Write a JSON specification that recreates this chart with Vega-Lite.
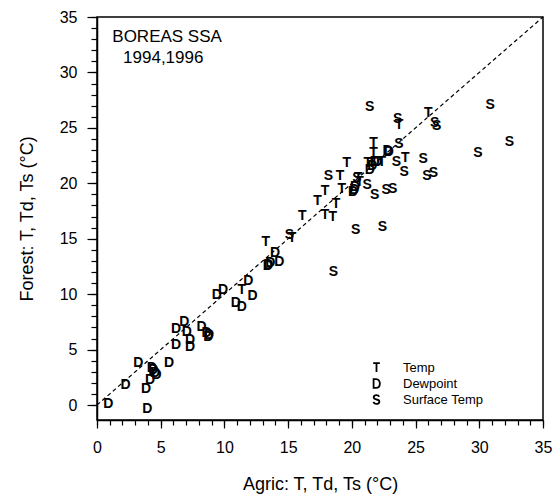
{
  "$schema": "https://vega.github.io/schema/vega-lite/v6.json",
  "width": 446,
  "height": 403,
  "autosize": {"type": "none"},
  "padding": {"left": 97, "top": 17, "right": 15, "bottom": 81},
  "background": "white",
  "config": {
    "view": {"stroke": "black", "strokeWidth": 1.5},
    "font": "Liberation Sans"
  },
  "resolve": {"axis": {"x": "independent", "y": "independent"}},
  "datasets": {
    "obs": [
      {"agric": 0.89, "forest": 0.09, "type": "D"},
      {"agric": 3.95, "forest": -0.39, "type": "D"},
      {"agric": 2.25, "forest": 1.8, "type": "D"},
      {"agric": 3.24, "forest": 3.76, "type": "D"},
      {"agric": 3.85, "forest": 1.41, "type": "D"},
      {"agric": 4.16, "forest": 2.25, "type": "D"},
      {"agric": 4.42, "forest": 3.16, "type": "D"},
      {"agric": 4.68, "forest": 2.7, "type": "D"},
      {"agric": 4.55, "forest": 2.9, "type": "D"},
      {"agric": 4.3, "forest": 3.3, "type": "D"},
      {"agric": 5.65, "forest": 3.82, "type": "D"},
      {"agric": 6.2, "forest": 5.4, "type": "D"},
      {"agric": 6.2, "forest": 6.9, "type": "D"},
      {"agric": 6.86, "forest": 7.5, "type": "D"},
      {"agric": 7.04, "forest": 6.6, "type": "D"},
      {"agric": 7.3, "forest": 5.86, "type": "D"},
      {"agric": 7.3, "forest": 5.2, "type": "D"},
      {"agric": 8.2, "forest": 7.06, "type": "D"},
      {"agric": 8.6, "forest": 6.47, "type": "D"},
      {"agric": 8.74, "forest": 6.16, "type": "D"},
      {"agric": 8.8, "forest": 6.3, "type": "D"},
      {"agric": 9.4, "forest": 9.9, "type": "D"},
      {"agric": 9.9, "forest": 10.4, "type": "D"},
      {"agric": 10.9, "forest": 9.17, "type": "D"},
      {"agric": 11.36, "forest": 8.8, "type": "D"},
      {"agric": 11.88, "forest": 11.2, "type": "D"},
      {"agric": 12.2, "forest": 9.83, "type": "D"},
      {"agric": 13.4, "forest": 12.5, "type": "D"},
      {"agric": 13.6, "forest": 12.8, "type": "D"},
      {"agric": 13.97, "forest": 13.7, "type": "D"},
      {"agric": 14.3, "forest": 12.9, "type": "D"},
      {"agric": 13.45, "forest": 12.6, "type": "D"},
      {"agric": 20.1, "forest": 19.2, "type": "D"},
      {"agric": 20.25, "forest": 19.7, "type": "D"},
      {"agric": 20.2, "forest": 19.4, "type": "D"},
      {"agric": 21.8, "forest": 21.95, "type": "D"},
      {"agric": 21.4, "forest": 21.2, "type": "D"},
      {"agric": 22.9, "forest": 22.85, "type": "D"},
      {"agric": 22.8, "forest": 22.9, "type": "D"},
      {"agric": 21.6, "forest": 21.6, "type": "D"},
      {"agric": 22.0, "forest": 21.9, "type": "D"},
      {"agric": 11.36, "forest": 10.4, "type": "T"},
      {"agric": 13.24, "forest": 14.7, "type": "T"},
      {"agric": 15.3, "forest": 15.1, "type": "T"},
      {"agric": 16.1, "forest": 17.05, "type": "T"},
      {"agric": 17.3, "forest": 18.4, "type": "T"},
      {"agric": 17.9, "forest": 19.3, "type": "T"},
      {"agric": 17.9, "forest": 17.1, "type": "T"},
      {"agric": 18.5, "forest": 17.0, "type": "T"},
      {"agric": 18.76, "forest": 18.1, "type": "T"},
      {"agric": 19.07, "forest": 20.7, "type": "T"},
      {"agric": 19.2, "forest": 19.5, "type": "T"},
      {"agric": 19.6, "forest": 21.8, "type": "T"},
      {"agric": 20.6, "forest": 20.1, "type": "T"},
      {"agric": 20.5, "forest": 20.45, "type": "T"},
      {"agric": 21.7, "forest": 23.6, "type": "T"},
      {"agric": 21.7, "forest": 22.7, "type": "T"},
      {"agric": 21.25, "forest": 21.8, "type": "T"},
      {"agric": 21.56, "forest": 21.8, "type": "T"},
      {"agric": 22.35, "forest": 21.9, "type": "T"},
      {"agric": 24.2, "forest": 22.25, "type": "T"},
      {"agric": 23.7, "forest": 25.3, "type": "T"},
      {"agric": 26.0, "forest": 26.3, "type": "T"},
      {"agric": 15.1, "forest": 15.3, "type": "S"},
      {"agric": 18.16, "forest": 20.7, "type": "S"},
      {"agric": 20.3, "forest": 15.8, "type": "S"},
      {"agric": 18.55, "forest": 11.97, "type": "S"},
      {"agric": 21.4, "forest": 26.9, "type": "S"},
      {"agric": 22.4, "forest": 16.1, "type": "S"},
      {"agric": 20.4, "forest": 20.45, "type": "S"},
      {"agric": 21.2, "forest": 19.85, "type": "S"},
      {"agric": 21.8, "forest": 18.9, "type": "S"},
      {"agric": 23.5, "forest": 21.9, "type": "S"},
      {"agric": 24.1, "forest": 21.0, "type": "S"},
      {"agric": 22.7, "forest": 19.4, "type": "S"},
      {"agric": 23.2, "forest": 19.45, "type": "S"},
      {"agric": 23.7, "forest": 23.5, "type": "S"},
      {"agric": 23.6, "forest": 25.8, "type": "S"},
      {"agric": 26.66, "forest": 25.2, "type": "S"},
      {"agric": 26.5, "forest": 25.4, "type": "S"},
      {"agric": 25.6, "forest": 22.15, "type": "S"},
      {"agric": 25.9, "forest": 20.7, "type": "S"},
      {"agric": 26.4, "forest": 20.9, "type": "S"},
      {"agric": 30.85, "forest": 27.06, "type": "S"},
      {"agric": 29.9, "forest": 22.7, "type": "S"},
      {"agric": 32.37, "forest": 23.75, "type": "S"}
    ]
  },
  "layer": [
    {
      "data": {"name": "obs"},
      "mark": {"type": "text", "font": "Liberation Sans", "fontSize": 14, "fontWeight": "bold", "align": "center", "baseline": "middle", "color": "black"},
      "encoding": {
        "x": {"field": "agric", "type": "quantitative", "scale": {"domain": [0, 35], "nice": false, "zero": false},
          "axis": {
            "orient": "bottom",
            "values": [0, 5, 10, 15, 20, 25, 30, 35],
            "tickSize": 8,
            "tickColor": "black", "tickWidth": 1.2,
            "domainColor": "black", "domainWidth": 1.5,
            "grid": false,
            "labelFont": "Liberation Sans", "labelFontSize": 16, "labelColor": "black", "labelPadding": 11,
            "labelFlush": false, "labelOverlap": false,
            "title": "Agric: T, Td, Ts (°C)",
            "titleFont": "Liberation Sans", "titleFontSize": 18, "titleFontWeight": "normal", "titleColor": "black",
            "titlePadding": 20
          }
        },
        "y": {"field": "forest", "type": "quantitative", "scale": {"domain": [-1.35, 35], "nice": false, "zero": false},
          "axis": {
            "orient": "left",
            "values": [0, 5, 10, 15, 20, 25, 30, 35],
            "tickSize": 10,
            "tickColor": "black", "tickWidth": 1.2,
            "domainColor": "black", "domainWidth": 1.5,
            "grid": false,
            "labelFont": "Liberation Sans", "labelFontSize": 16, "labelColor": "black", "labelPadding": 10,
            "labelFlush": false, "labelOverlap": false,
            "title": "Forest: T, Td, Ts (°C)",
            "titleFont": "Liberation Sans", "titleFontSize": 18, "titleFontWeight": "normal", "titleColor": "black",
            "titlePadding": 23
          }
        },
        "text": {"field": "type"}
      }
    },
    {
      "data": {"values": [{}]},
      "mark": {"type": "rule", "color": "black", "strokeWidth": 1.2, "strokeDash": [4, 3]},
      "encoding": {
        "x": {"datum": 0, "type": "quantitative", "axis": null},
        "y": {"datum": 0, "type": "quantitative", "axis": null},
        "x2": {"datum": 35},
        "y2": {"datum": 35}
      }
    },
    {
      "data": {"name": "obs"},
      "mark": {"type": "point", "opacity": 0, "filled": false},
      "encoding": {
        "x": {"field": "agric", "type": "quantitative",
          "axis": {"orient": "bottom", "values": [0,1,2,3,4,5,6,7,8,9,10,11,12,13,14,15,16,17,18,19,20,21,22,23,24,25,26,27,28,29,30,31,32,33,34,35],
            "labels": false, "tickSize": 5, "tickColor": "black", "tickWidth": 1.2, "domain": false, "grid": false, "title": null}},
        "y": {"field": "forest", "type": "quantitative",
          "axis": {"orient": "left", "values": [0,1,2,3,4,5,6,7,8,9,10,11,12,13,14,15,16,17,18,19,20,21,22,23,24,25,26,27,28,29,30,31,32,33,34,35],
            "labels": false, "tickSize": 6, "tickColor": "black", "tickWidth": 1.2, "domain": false, "grid": false, "title": null}},
        "shape": {
          "field": "type", "type": "nominal",
          "scale": {
            "domain": ["T", "D", "S"],
            "range": [
              "M-0.75,-1H0.75M0,-1V1",
              "M-0.65,-1V1H-0.1C0.5,1,0.75,0.5,0.75,0C0.75,-0.5,0.5,-1,-0.1,-1Z",
              "M0.6,-0.6C0.5,-0.9,0.2,-1,0,-1C-0.4,-1,-0.62,-0.8,-0.62,-0.5C-0.62,-0.1,-0.2,-0.05,0,0C0.3,0.05,0.65,0.15,0.65,0.5C0.65,0.85,0.3,1,0,1C-0.3,1,-0.6,0.85,-0.65,0.55"
            ]
          },
          "legend": {
            "orient": "none", "legendX": 273, "legendY": 344,
            "title": null, "padding": 0,
            "labelExpr": "datum.label === 'T' ? 'Temp' : datum.label === 'D' ? 'Dewpoint' : 'Surface Temp'",
            "symbolStrokeColor": "black", "symbolFillColor": "transparent", "symbolStrokeWidth": 1.8,
            "symbolSize": 80, "symbolOpacity": 1,
            "labelFont": "Liberation Sans", "labelFontSize": 13, "labelColor": "black",
            "labelOffset": 20, "rowPadding": -1
          }
        }
      }
    },
    {
      "data": {"values": [{}]},
      "mark": {"type": "text", "text": "BOREAS SSA", "font": "Liberation Sans", "fontSize": 17, "align": "center", "baseline": "middle", "color": "black"},
      "encoding": {"x": {"datum": 5.5, "type": "quantitative", "axis": null}, "y": {"datum": 33.2, "type": "quantitative", "axis": null}}
    },
    {
      "data": {"values": [{}]},
      "mark": {"type": "text", "text": "1994,1996", "font": "Liberation Sans", "fontSize": 17, "align": "center", "baseline": "middle", "color": "black"},
      "encoding": {"x": {"datum": 5.2, "type": "quantitative", "axis": null}, "y": {"datum": 31.3, "type": "quantitative", "axis": null}}
    }
  ]
}
